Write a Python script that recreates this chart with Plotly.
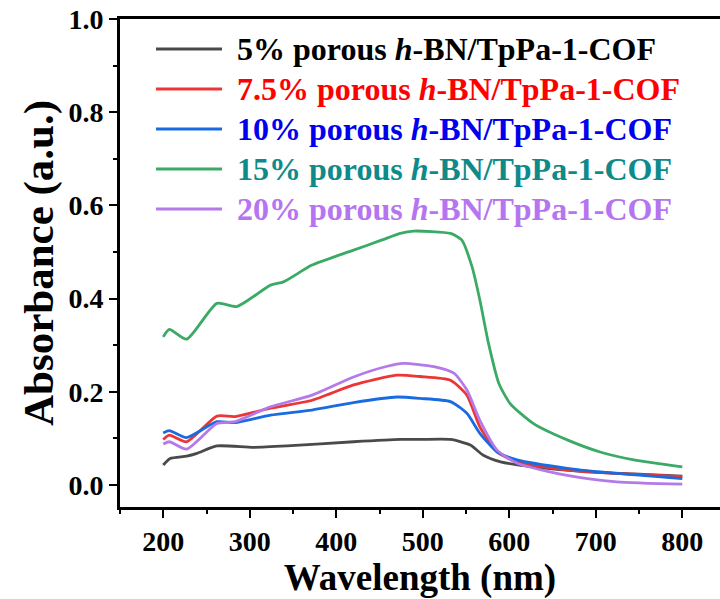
import plotly.graph_objects as go

# ---- data ----
wl_black = [200, 208, 227, 239, 262, 304, 343, 420, 474, 497, 532, 555, 570, 590, 628, 686, 744, 800]
ab_black = [0.043, 0.057, 0.062, 0.068, 0.084, 0.081, 0.084, 0.093, 0.098, 0.098, 0.098, 0.086, 0.064, 0.050, 0.039, 0.029, 0.024, 0.019]

wl_red = [200, 207, 227, 262, 283, 324, 372, 420, 470, 497, 532, 551, 566, 586, 609, 667, 724, 800]
ab_red = [0.098, 0.107, 0.093, 0.148, 0.147, 0.165, 0.182, 0.215, 0.236, 0.233, 0.225, 0.193, 0.125, 0.071, 0.050, 0.032, 0.025, 0.018]

wl_blue = [200, 207, 227, 262, 283, 324, 372, 420, 470, 497, 532, 551, 566, 586, 609, 667, 724, 800]
ab_blue = [0.112, 0.117, 0.102, 0.136, 0.134, 0.150, 0.161, 0.177, 0.189, 0.186, 0.179, 0.154, 0.111, 0.071, 0.054, 0.036, 0.025, 0.014]

wl_green = [200, 207, 227, 262, 285, 324, 339, 372, 420, 453, 474, 489, 532, 545, 557, 566, 576, 588, 601, 628, 667, 705, 744, 800]
ab_green = [0.318, 0.334, 0.313, 0.390, 0.383, 0.429, 0.436, 0.472, 0.504, 0.526, 0.540, 0.545, 0.540, 0.526, 0.468, 0.397, 0.304, 0.218, 0.175, 0.132, 0.097, 0.071, 0.054, 0.039]

wl_purple = [200, 207, 227, 262, 283, 324, 372, 420, 459, 478, 497, 513, 536, 551, 566, 586, 609, 667, 724, 800]
ab_purple = [0.088, 0.093, 0.077, 0.132, 0.136, 0.168, 0.193, 0.232, 0.255, 0.261, 0.258, 0.254, 0.240, 0.204, 0.139, 0.075, 0.047, 0.021, 0.007, 0.002]

labels = ["5% porous", "7.5% porous", "10% porous", "15% porous", "20% porous"]
text_colors = ["#000000", "#ff0000", "#0000ee", "#0e8a8a", "#b574f0"]
line_colors = ["#4a4a4a", "#ee3535", "#1a6ae0", "#3aaa65", "#b37ae8"]
xs_all = [wl_black, wl_red, wl_blue, wl_green, wl_purple]
ys_all = [ab_black, ab_red, ab_blue, ab_green, ab_purple]

x_ticks = [200, 300, 400, 500, 600, 700, 800]
y_ticks = [0.0, 0.2, 0.4, 0.6, 0.8, 1.0]

FONT = "Liberation Serif, Times New Roman, serif"

fig = go.Figure()
for lab, lcol, xs, ys in zip(labels, line_colors, xs_all, ys_all):
    fig.add_trace(go.Scatter(
        x=xs, y=ys, mode="lines", name=lab, showlegend=False,
        line=dict(color=lcol, width=2.8, shape="spline", smoothing=0.6),
    ))

# legend drawn as decoration (line samples + coloured text) in the axis domain
W, H = 600.0, 488.0  # plot area size in px
row_y = [49, 89, 129, 169, 209]
for i, (lab, tcol, lcol) in enumerate(zip(labels, text_colors, line_colors)):
    yd = 1 - (row_y[i] - 19) / H
    fig.add_shape(type="line", xref="x domain", yref="y domain",
                  x0=36 / W, x1=102 / W, y0=yd, y1=yd,
                  line=dict(color=lcol, width=3.2))
    fig.add_annotation(xref="x domain", yref="y domain", x=115 / W, y=yd,
                       xanchor="left", yanchor="middle", showarrow=False,
                       text=f"{lab} <i>h</i>-BN/TpPa-1-COF",
                       font=dict(family=FONT, size=32, color=tcol, weight="bold"))

axis_common = dict(
    showline=True, linecolor="black", linewidth=2.6,
    ticks="outside", tickwidth=2.2, tickcolor="black", ticklen=8,
    showgrid=False, zeroline=False, automargin=False,
    ticklabeloverflow="allow",
    tickfont=dict(family=FONT, size=28, color="black", weight="bold"),
)

fig.update_xaxes(
    range=[150, 843.6], tickvals=x_ticks, ticktext=[str(v) for v in x_ticks],
    mirror=True,
    minor=dict(ticks="outside", ticklen=4, tickwidth=2.2, tickcolor="black", dtick=50, tick0=150),
    title=dict(text="Wavelength (nm)", font=dict(family=FONT, size=37, color="black", weight="bold"), standoff=8),
    **axis_common,
)
fig.update_yaxes(
    range=[-0.047, 1.0], tickvals=y_ticks, ticktext=[f"{v:.1f}" for v in y_ticks],
    mirror=False,
    minor=dict(ticks="outside", ticklen=4, tickwidth=2.2, tickcolor="black", dtick=0.1, tick0=0.1),
    title=dict(text="Absorbance (a.u.)", font=dict(family=FONT, size=43, color="black", weight="bold"), standoff=2),
    **axis_common,
)

fig.update_layout(
    width=720, height=599,
    margin=dict(l=120, r=0, t=19, b=92),
    paper_bgcolor="white", plot_bgcolor="white",
    showlegend=False,
)

# remove the page's default 8px body margin so the figure fills the window exactly
fig.write_html("out.html", config={"displayModeBar": False},
               post_script="document.body.style.margin='0';")
